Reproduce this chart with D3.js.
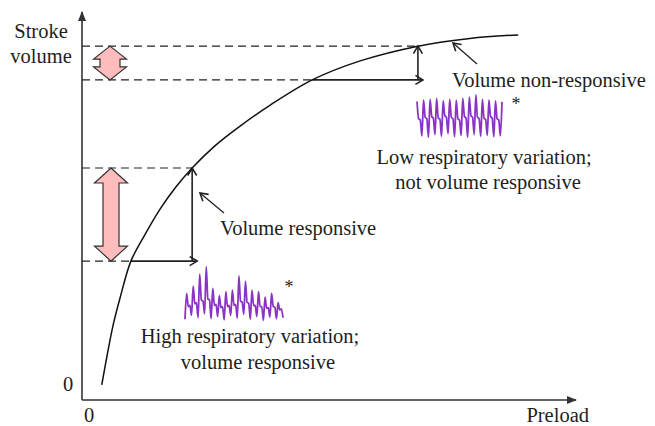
<!DOCTYPE html>
<html><head><meta charset="utf-8">
<script src="https://cdn.jsdelivr.net/npm/d3@7"></script>
<style>
body{margin:0;background:#fff}
text{font-family:"Liberation Serif","Times New Roman",serif;fill:#1e1e1e;font-size:20.5px}
</style>
</head><body><svg id="c" width="655" height="426"></svg>
<script>
// ---- data ----
const preload      = [4.0, 5.1, 6.3, 7.7, 9.9, 12.6, 15.8, 19.0, 22.3, 26.9, 32.0, 38.1, 46.6, 56.3, 68.0, 78.5, 88.3];
const strokeVolume = [3.9, 11.6, 19.3, 26.3, 35.8, 42.3, 49.2, 54.9, 59.8, 65.5, 70.6, 76.0, 82.5, 87.4, 91.2, 93.2, 94.1];
const responsivePreload    = [9.9, 22.3];
const responsiveSV         = [35.8, 59.8];
const nonResponsivePreload = [46.6, 68.0];
const nonResponsiveSV      = [82.5, 91.2];
const xTickLabels = ["0"];
const yTickLabels = ["0"];
// arterial pressure traces (relative height 0-100), 4 samples per beat
const highVariationWave = [
  5, 52, 28, 30,  12, 65, 33, 35,  8, 87, 40, 38,  15, 100, 42, 40,
  6, 61, 30, 32,  10, 48, 26, 28,  4, 55, 28, 30,  12, 58, 30, 32,
  7, 84, 38, 36,  14, 74, 36, 34,  5, 58, 30, 30,  10, 55, 28, 28,
  3, 45, 25, 26,  9, 52, 28, 27,   6, 35, 22, 24,  8];
const lowVariationWave = [
  85, 45, 42, 5,  88, 48, 45, 2,  90, 50, 46, 8,  92, 46, 44, 4,
  86, 52, 48, 10, 90, 48, 45, 3,  88, 45, 42, 6,  92, 50, 46, 2,
  95, 52, 48, 8,  100, 48, 45, 4, 90, 46, 43, 6,  88, 50, 46, 3,
  86, 45, 42, 5,  84];

// ---- drawing ----
const svg = d3.select("#c");
const x = d3.scaleLinear([0, 100], [82, 576]);
const y = d3.scaleLinear([0, 100], [400, 12]);
const ink = "#222";

const defs = svg.append("defs");
defs.append("marker").attr("id","tri").attr("markerUnits","userSpaceOnUse")
  .attr("markerWidth",10).attr("markerHeight",8).attr("refX",9).attr("refY",4).attr("orient","auto")
  .append("path").attr("d","M0,0L10,4L0,8Z").attr("fill","#333");
defs.append("marker").attr("id","chev").attr("markerUnits","userSpaceOnUse")
  .attr("markerWidth",12).attr("markerHeight",12).attr("refX",8.5).attr("refY",5).attr("orient","auto")
  .append("path").attr("d","M1,0.5L8.5,5L1,9.5").attr("fill","none").attr("stroke",ink).attr("stroke-width",1.6);

// axes
svg.append("line").attr("x1",x(0)).attr("y1",y(0)).attr("x2",x(0)).attr("y2",y(100))
  .attr("stroke","#333").attr("stroke-width",1.6).attr("marker-end","url(#tri)");
svg.append("line").attr("x1",x(0)).attr("y1",y(0)).attr("x2",x(100)).attr("y2",y(0))
  .attr("stroke","#333").attr("stroke-width",1.6).attr("marker-end","url(#tri)");
svg.append("text").attr("x",x(0)-14).attr("y",y(0)-9).attr("text-anchor","middle").text(yTickLabels[0]);
svg.append("text").attr("x",x(0)+7).attr("y",422).attr("text-anchor","middle").text(xTickLabels[0]);
svg.append("text").attr("x",589).attr("y",422).attr("text-anchor","end").text("Preload");
svg.append("text").attr("x",41).attr("y",38).attr("text-anchor","middle").text("Stroke");
svg.append("text").attr("x",41).attr("y",63).attr("text-anchor","middle").text("volume");

// dashed guide lines
function dashed(p, sv){
  svg.append("line").attr("x1",x(0)).attr("x2",x(p)).attr("y1",y(sv)).attr("y2",y(sv))
    .attr("stroke",ink).attr("stroke-width",1.2).attr("stroke-dasharray","8,5");
}
dashed(responsivePreload[1], responsiveSV[1]);
dashed(responsivePreload[0], responsiveSV[0]);
dashed(nonResponsivePreload[1], nonResponsiveSV[1]);
dashed(nonResponsivePreload[0], nonResponsiveSV[0]);

// step arrows
function steps(P, S){
  svg.append("line").attr("x1",x(P[0])).attr("x2",x(P[1])+5).attr("y1",y(S[0])).attr("y2",y(S[0]))
    .attr("stroke",ink).attr("stroke-width",1.6).attr("marker-end","url(#chev)");
  svg.append("line").attr("x1",x(P[1])).attr("x2",x(P[1])).attr("y1",y(S[0])).attr("y2",y(S[1]))
    .attr("stroke",ink).attr("stroke-width",1.6).attr("marker-end","url(#chev)");
}
steps(responsivePreload, responsiveSV);
steps(nonResponsivePreload, nonResponsiveSV);

// curve
const pts = preload.map((p,i)=>[x(p), y(strokeVolume[i])]);
svg.append("path").attr("d", d3.line().curve(d3.curveCatmullRom)(pts))
  .attr("fill","none").attr("stroke","#111").attr("stroke-width",1.5);

// pink double arrows
function dbl(cx, S, hh, hl, sh){
  const t = y(S[1]), b = y(S[0]);
  const p = [[cx,t],[cx+hh,t+hl],[cx+sh,t+hl],[cx+sh,b-hl],[cx+hh,b-hl],[cx,b],
             [cx-hh,b-hl],[cx-sh,b-hl],[cx-sh,t+hl],[cx-hh,t+hl]];
  svg.append("path").attr("d", d3.line()(p)+"Z").attr("fill","#ffbcbc")
    .attr("stroke","#333").attr("stroke-width",1.2).attr("stroke-linejoin","miter");
}
dbl(111, responsiveSV, 16.5, 15, 8);
dbl(110, nonResponsiveSV, 16.5, 13, 10);

// annotation arrows
function ann(x1,y1,x2,y2){
  svg.append("line").attr("x1",x1).attr("y1",y1).attr("x2",x2).attr("y2",y2)
    .attr("stroke",ink).attr("stroke-width",1.3).attr("marker-end","url(#chev)");
}
ann(224,213,200,193);
ann(477,64,453,43);

// waves
function wave(vals, x0, x1, yb, yt){
  const wx = d3.scaleLinear([0, vals.length-1], [x0, x1]);
  const wy = d3.scaleLinear([0, 100], [yb, yt]);
  svg.append("path").attr("d", d3.line().x((d,i)=>wx(i)).y(d=>wy(d)).curve(d3.curveMonotoneX)(vals))
    .attr("fill","none").attr("stroke","#8a34c4").attr("stroke-width",1.8).attr("stroke-linejoin","round");
}
wave(highVariationWave, 185, 283, 322, 267);
wave(lowVariationWave, 417, 502, 138, 95);

// labels
svg.append("text").attr("x",220).attr("y",235).text("Volume responsive");
svg.append("text").attr("x",452).attr("y",87).text("Volume non-responsive");
svg.append("text").attr("x",289).attr("y",293).attr("text-anchor","middle").style("font-size","18px").text("*");
svg.append("text").attr("x",516).attr("y",110).attr("text-anchor","middle").style("font-size","18px").text("*");
svg.append("text").attr("x",484).attr("y",164).attr("text-anchor","middle").text("Low respiratory variation;");
svg.append("text").attr("x",488).attr("y",189).attr("text-anchor","middle").text("not volume responsive");
svg.append("text").attr("x",250).attr("y",343).attr("text-anchor","middle").text("High respiratory variation;");
svg.append("text").attr("x",258).attr("y",369).attr("text-anchor","middle").text("volume responsive");
</script></body></html>
